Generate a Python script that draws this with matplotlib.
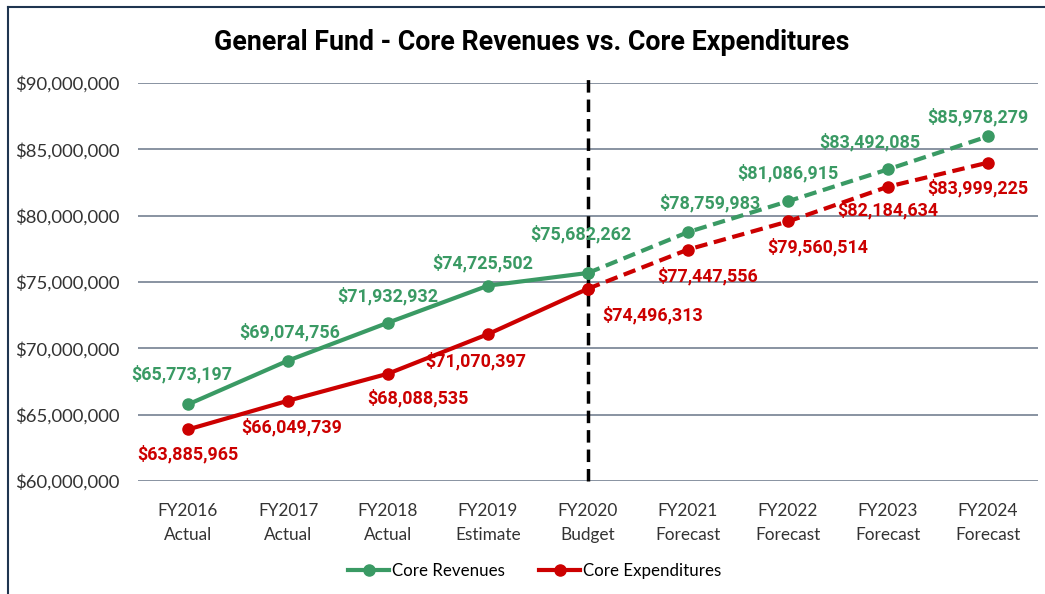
import matplotlib
matplotlib.use("Agg")
import matplotlib.pyplot as plt
from matplotlib.lines import Line2D
from matplotlib.ticker import FuncFormatter

categories = ["FY2016\nActual", "FY2017\nActual", "FY2018\nActual", "FY2019\nEstimate",
              "FY2020\nBudget", "FY2021\nForecast", "FY2022\nForecast", "FY2023\nForecast",
              "FY2024\nForecast"]
revenues = [65773197, 69074756, 71932932, 74725502, 75682262, 78759983, 81086915, 83492085, 85978279]
expenditures = [63885965, 66049739, 68088535, 71070397, 74496313, 77447556, 79560514, 82184634, 83999225]
y_ticks = [60000000, 65000000, 70000000, 75000000, 80000000, 85000000, 90000000]

# label offsets in pixels (dx, dy)
rev_off = [(-6, 30), (2, 28), (0, 27), (-5, 22), (-7, 39), (22, 29), (0, 28), (-18, 27), (-10, 19)]
exp_off = [(0, -25), (4, -26), (30, -24), (-12, -27), (65, -26), (20, -27), (30, -26), (0, -23), (-10, -26)]

GREEN = "#3A9A64"
RED = "#CC0000"
FONT = ["Lato", "DejaVu Sans"]
BOLD = ["Roboto", "DejaVu Sans"]
plt.rcParams['font.family'] = FONT

fig = plt.figure(figsize=(10.45, 5.94), dpi=100)
ax = fig.add_axes([138/1045, 1-481/594, 900/1045, (481-83)/594])

x = list(range(len(categories)))
split = 4
lw = 3.0
ms = 8
ax.plot(x[:split+1], revenues[:split+1], color=GREEN, lw=lw, marker='o', ms=ms, zorder=3,
        solid_capstyle='round')
ax.plot(x[split:], revenues[split:], color=GREEN, lw=lw, marker='o', ms=ms, zorder=3,
        linestyle=(0, (3, 1.6)))
ax.plot(x[:split+1], expenditures[:split+1], color=RED, lw=lw, marker='o', ms=ms, zorder=3,
        solid_capstyle='round')
ax.plot(x[split:], expenditures[split:], color=RED, lw=lw, marker='o', ms=ms, zorder=3,
        linestyle=(0, (3, 1.6)))

# vertical dashed separator
ax.plot([split, split], [60000000, 90380000], color='black', lw=2.5, linestyle=(0, (3.6, 2.0)),
        clip_on=False, zorder=2)

for i in x:
    ax.annotate(f"${revenues[i]:,}", (i, revenues[i]), xytext=rev_off[i], textcoords='offset pixels',
                ha='center', va='center', color=GREEN, fontsize=12.9, fontweight='bold',
                family=BOLD, zorder=4)
    ax.annotate(f"${expenditures[i]:,}", (i, expenditures[i]), xytext=exp_off[i], textcoords='offset pixels',
                ha='center', va='center', color=RED, fontsize=12.9, fontweight='bold',
                family=BOLD, zorder=4)

ax.set_xlim(-0.5, len(categories) - 0.5)
ax.set_ylim(60000000, 90000000)
ax.set_yticks(y_ticks)
ax.yaxis.set_major_formatter(FuncFormatter(lambda v, p: f"${int(v):,}"))
ax.set_xticks(x)
ax.set_xticklabels(categories, fontsize=12.4, color='#333333', linespacing=1.6)
ax.tick_params(axis='y', labelsize=13.3, labelcolor='#333333', length=0, pad=13)
ax.tick_params(axis='x', length=0, pad=16)
for s in ax.spines.values():
    s.set_visible(False)
ax.grid(axis='y', color='#7F8A9A', lw=1.3, zorder=1)
ax.set_axisbelow(True)

fig.text(532/1045, 1-42/594, "General Fund - Core Revenues vs. Core Expenditures",
         ha='center', va='center', fontsize=19.3, fontweight='bold', family=BOLD, color='black')

handles = [Line2D([], [], color=GREEN, lw=lw, marker='o', ms=ms),
           Line2D([], [], color=RED, lw=lw, marker='o', ms=ms)]
fig.legend(handles, ["Core Revenues", "Core Expenditures"], loc='center',
           bbox_to_anchor=(535/1045, 1-571/594), ncol=2, frameon=False, fontsize=12.2,
           handlelength=2.4, handletextpad=0.2, columnspacing=2.0)

# figure border (top and left edges visible)
fig.add_artist(Line2D([8/1045, 8/1045], [0, 1-7/594], transform=fig.transFigure, color='#1F3550', lw=1.5))
fig.add_artist(Line2D([8/1045, 1], [1-7/594, 1-7/594], transform=fig.transFigure, color='#1F3550', lw=1.5))

fig.savefig("out.png", dpi=100)
